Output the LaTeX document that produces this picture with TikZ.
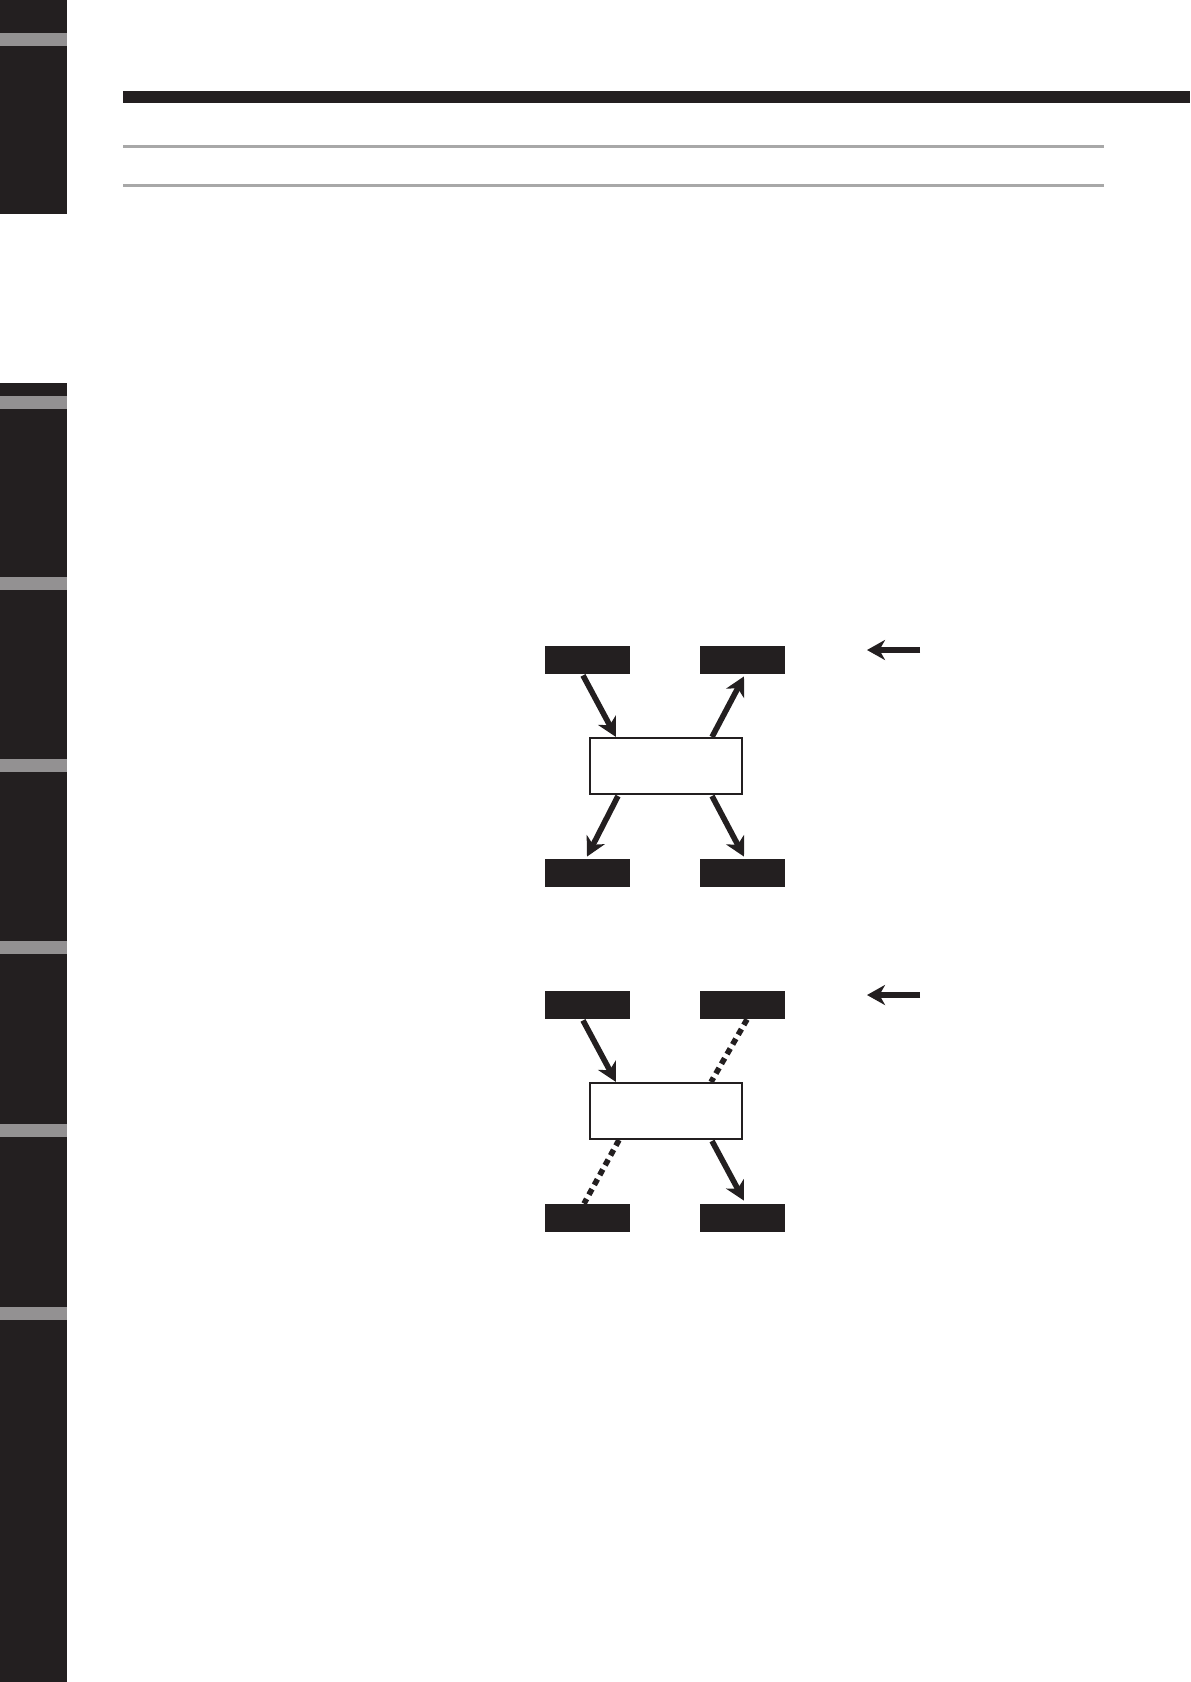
\documentclass[tikz,border=0pt]{standalone}
\usetikzlibrary{arrows.meta,calc}
\definecolor{ink}{HTML}{231F20}
\definecolor{band}{HTML}{939192}
\definecolor{rule}{HTML}{A8A8A8}
\begin{document}
\begin{tikzpicture}[x=0.5pt,y=-0.5pt,
  blk/.style={rectangle,fill=ink,minimum width=42.5pt,minimum height=14pt,inner sep=0pt},
  ctr/.style={rectangle,draw=ink,line width=1pt,fill=white,minimum width=76pt,minimum height=28pt,inner sep=0pt},
  flow/.style={draw=ink,line width=2.8pt,-{Stealth[length=9.5pt,width=10pt,inset=2.8pt]}},
  dotl/.style={draw=ink,line width=2.8pt,dash pattern=on 3.2pt off 2.4pt},
  side/.style={draw=ink,line width=2.9pt,-{Stealth[length=9pt,width=10pt,inset=2.8pt]}}]
\useasboundingbox (0,0) rectangle (1190,1682);
% left tab bar
\fill[ink] (0,0) rectangle (67,214);
\fill[ink] (0,383) rectangle (67,1682);
\foreach \y in {33,396,577,759,941,1124,1307}
  \fill[band] (0,\y) rectangle (67,\y+13);
% header rules
\fill[ink] (123,91) rectangle (1190,103);
\fill[rule] (123,145) rectangle (1104,148);
\fill[rule] (123,184) rectangle (1104,187);
% diagram 1
\node[blk] (tl) at (587.5,660) {};
\node[blk] (tr) at (742.5,660) {};
\node[ctr] (c) at (666,766) {};
\node[blk] (bl) at (587.5,873) {};
\node[blk] (br) at (742.5,873) {};
\draw[flow] ($(tl.south)+(-4.5,1)$) -- ($(c.north)+(-50,0)$);
\draw[flow] ($(c.north)+(46,0)$) -- ($(tr.south)+(1.5,2)$);
\draw[flow] ($(c.south)+(-48,1)$) -- ($(bl.north)+(-0.5,-2)$);
\draw[flow] ($(c.south)+(46,1)$) -- ($(br.north)+(1.5,-2)$);
\coordinate (s1a) at (920,650);
\coordinate (s1b) at (867,650);
\draw[side] (s1a) -- (s1b);
% diagram 2
\node[blk] (tl2) at (587.5,1005) {};
\node[blk] (tr2) at (742.5,1005) {};
\node[ctr] (c2) at (666,1111) {};
\node[blk] (bl2) at (587.5,1218) {};
\node[blk] (br2) at (742.5,1218) {};
\draw[flow] ($(tl2.south)+(-4.5,1)$) -- ($(c2.north)+(-50,0)$);
\draw[dotl] ($(tr2.south)+(4.5,0)$) -- ($(c2.north)+(45,0)$);
\draw[dotl] ($(c2.south)+(-47,0)$) -- ($(bl2.north)+(-3.5,0)$);
\draw[flow] ($(c2.south)+(46,1)$) -- ($(br2.north)+(1.5,-3)$);
\coordinate (s2a) at (920,995);
\coordinate (s2b) at (867,995);
\draw[side] (s2a) -- (s2b);
\end{tikzpicture}
\end{document}
